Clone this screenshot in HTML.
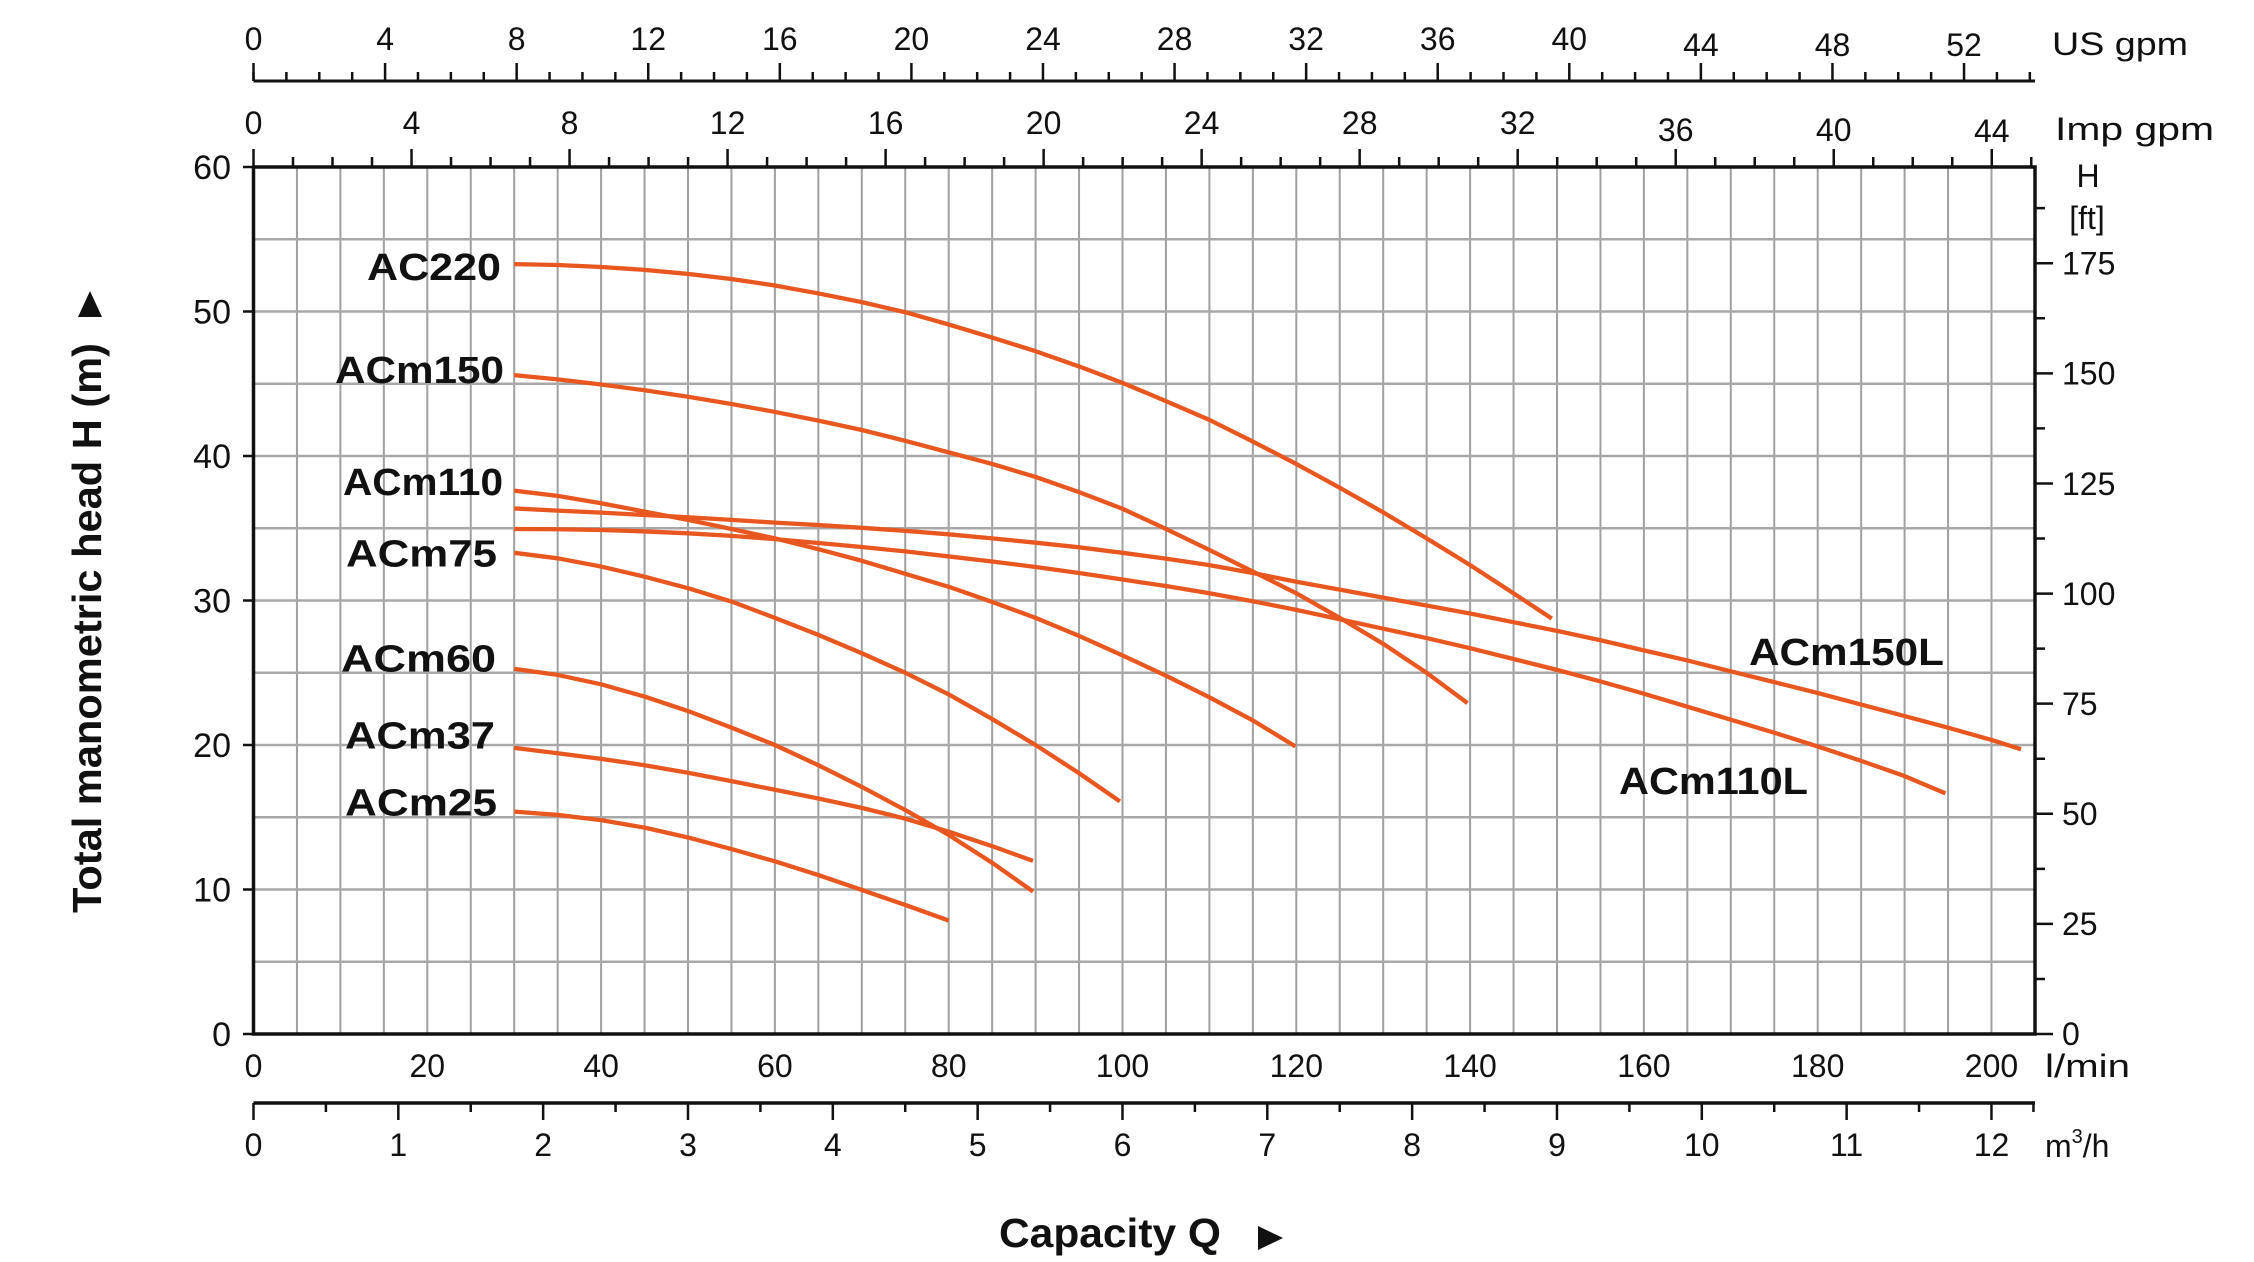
<!DOCTYPE html>
<html><head><meta charset="utf-8"><style>
html,body{margin:0;padding:0;background:#fff;}
svg{display:block;}
.ns *{vector-effect:non-scaling-stroke;}
text{font-family:"Liberation Sans",Arial,sans-serif;fill:#111;}
.t{font-size:32px;}
.tl{font-size:34px;}
.lb{font-size:38px;font-weight:bold;}
</style></head><body>
<svg width="2254" height="1262" viewBox="0 0 2254 1262" xmlns="http://www.w3.org/2000/svg">
<rect width="2254" height="1262" fill="#fff"/>

<!-- grid -->
<g class="ns" transform="translate(253.5 1034) scale(8.69 -14.45)" fill="none" stroke="#a0a0a0" stroke-width="2">
<path d="M5 0V60M10 0V60M15 0V60M20 0V60M25 0V60M30 0V60M35 0V60M40 0V60M45 0V60M50 0V60M55 0V60M60 0V60M65 0V60M70 0V60M75 0V60M80 0V60M85 0V60M90 0V60M95 0V60M100 0V60M105 0V60M110 0V60M115 0V60M120 0V60M125 0V60M130 0V60M135 0V60M140 0V60M145 0V60M150 0V60M155 0V60M160 0V60M165 0V60M170 0V60M175 0V60M180 0V60M185 0V60M190 0V60M195 0V60M200 0V60"/>
<path d="M0 5H205M0 10H205M0 15H205M0 20H205M0 25H205M0 30H205M0 35H205M0 40H205M0 45H205M0 50H205M0 55H205" stroke="#a8a8a8" stroke-width="2.4"/>
</g>

<!-- curves -->
<g class="ns" transform="translate(253.5 1034) scale(8.69 -14.45)" fill="none" stroke="#E8571F" stroke-width="4.3" stroke-linejoin="round">
<polyline points="30,53.28 35,53.22 40,53.08 45,52.88 50,52.6 55,52.25 60,51.8 65,51.25 70,50.65 75,49.95 80,49.1 85,48.2 90,47.25 95,46.2 100,45.06 105,43.8 110,42.5 115,41.0 120,39.45 125,37.8 130,36.1 135,34.3 140,32.45 145,30.5 149.4,28.75"/>
<polyline points="30,45.6 35,45.3 40,44.95 45,44.55 50,44.1 55,43.6 60,43.05 65,42.45 70,41.8 75,41.05 80,40.25 85,39.45 90,38.55 95,37.5 100,36.35 105,34.95 110,33.5 115,32.0 120,30.5 125,28.8 130,27.0 135,25.0 139.7,22.9"/>
<polyline points="30,37.6 35,37.24 40,36.73 45,36.15 50,35.58 55,34.95 60,34.3 65,33.55 70,32.75 75,31.85 80,30.95 85,29.9 90,28.8 95,27.55 100,26.2 105,24.8 110,23.3 115,21.7 119.9,19.9"/>
<polyline points="30,36.37 35,36.22 40,36.08 45,35.92 50,35.76 55,35.58 60,35.39 65,35.22 70,35.03 75,34.82 80,34.58 85,34.3 90,34.0 95,33.68 100,33.3 105,32.9 110,32.45 115,31.9 120,31.3 125,30.75 130,30.2 135,29.65 140,29.1 145,28.5 150,27.9 155,27.25 160,26.55 165,25.85 170,25.1 175,24.35 180,23.6 185,22.8 190,22.0 195,21.2 200,20.35 203.4,19.7"/>
<polyline points="30,34.95 35,34.93 40,34.88 45,34.78 50,34.65 55,34.47 60,34.25 65,33.98 70,33.7 75,33.4 80,33.05 85,32.7 90,32.32 95,31.9 100,31.45 105,31.0 110,30.5 115,29.95 120,29.35 125,28.7 130,28.05 135,27.4 140,26.7 145,25.95 150,25.2 155,24.4 160,23.55 165,22.65 170,21.75 175,20.85 180,19.9 185,18.9 190,17.85 194.7,16.65"/>
<polyline points="30,33.3 35,32.92 40,32.35 45,31.65 50,30.85 55,29.93 60,28.8 65,27.62 70,26.35 75,25.0 80,23.5 85,21.8 90,20.0 95,18.05 99.7,16.1"/>
<polyline points="30,25.27 35,24.85 40,24.2 45,23.35 50,22.35 55,21.2 60,20.0 65,18.6 70,17.1 75,15.5 80,13.78 85,11.85 89.7,9.86"/>
<polyline points="30,19.8 35,19.43 40,19.04 45,18.6 50,18.08 55,17.5 60,16.9 65,16.3 70,15.65 75,14.9 80,14.0 85,13.0 89.7,11.98"/>
<polyline points="30,15.39 35,15.16 40,14.8 45,14.28 50,13.6 55,12.8 60,11.95 65,11.0 70,9.97 75,8.93 80,7.85"/>
</g>

<!-- plot frame -->
<g stroke="#111" fill="none">
<path d="M253.5 167V1034H2035V167H253.5" stroke-width="3.5"/>
<path d="M253.5 81H2035" stroke-width="3"/>
<path d="M253.5 1103H2035" stroke-width="3.5"/>
<path d="M243 167H253.5M243 311.5H253.5M243 456H253.5M243 600.5H253.5M243 745H253.5M243 889.5H253.5M243 1034H253.5" stroke-width="2.5"/>
</g>

<!-- US gpm ticks -->
<g class="ns" transform="translate(253.5 81) scale(32.895 1)" stroke="#111" fill="none" stroke-width="2.5">
<path d="M0 0v-9M1 0v-9M2 0v-9M3 0v-9M5 0v-9M6 0v-9M7 0v-9M9 0v-9M10 0v-9M11 0v-9M13 0v-9M14 0v-9M15 0v-9M17 0v-9M18 0v-9M19 0v-9M21 0v-9M22 0v-9M23 0v-9M25 0v-9M26 0v-9M27 0v-9M29 0v-9M30 0v-9M31 0v-9M33 0v-9M34 0v-9M35 0v-9M37 0v-9M38 0v-9M39 0v-9M41 0v-9M42 0v-9M43 0v-9M45 0v-9M46 0v-9M47 0v-9M49 0v-9M50 0v-9M51 0v-9M53 0v-9M54 0v-9"/>
<path d="M0 0v-18M4 0v-18M8 0v-18M12 0v-18M16 0v-18M20 0v-18M24 0v-18M28 0v-18M32 0v-18M36 0v-18M40 0v-18M44 0v-18M48 0v-18M52 0v-18"/>
</g>

<!-- Imp gpm ticks -->
<g class="ns" transform="translate(253.5 167) scale(39.506 1)" stroke="#111" fill="none" stroke-width="2.5">
<path d="M1 0v-10M2 0v-10M3 0v-10M5 0v-10M6 0v-10M7 0v-10M9 0v-10M10 0v-10M11 0v-10M13 0v-10M14 0v-10M15 0v-10M17 0v-10M18 0v-10M19 0v-10M21 0v-10M22 0v-10M23 0v-10M25 0v-10M26 0v-10M27 0v-10M29 0v-10M30 0v-10M31 0v-10M33 0v-10M34 0v-10M35 0v-10M37 0v-10M38 0v-10M39 0v-10M41 0v-10M42 0v-10M43 0v-10M45 0v-10"/>
<path d="M0 0v-18M4 0v-18M8 0v-18M12 0v-18M16 0v-18M20 0v-18M24 0v-18M28 0v-18M32 0v-18M36 0v-18M40 0v-18M44 0v-18"/>
</g>

<!-- m3/h ticks -->
<g class="ns" transform="translate(253.5 1103) scale(144.83 1)" stroke="#111" fill="none" stroke-width="2.5">
<path d="M0.5 0v9M1.5 0v9M2.5 0v9M3.5 0v9M4.5 0v9M5.5 0v9M6.5 0v9M7.5 0v9M8.5 0v9M9.5 0v9M10.5 0v9M11.5 0v9M12.29 0v9"/>
<path d="M0 0v17M1 0v17M2 0v17M3 0v17M4 0v17M5 0v17M6 0v17M7 0v17M8 0v17M9 0v17M10 0v17M11 0v17M12 0v17"/>
</g>

<!-- right ft ticks -->
<g class="ns" transform="translate(2035 1034) scale(1 -4.40436)" stroke="#111" fill="none" stroke-width="2.5">
<path d="M0 0H18M0 25H18M0 50H18M0 75H18M0 100H18M0 125H18M0 150H18M0 175H18"/>
<path d="M0 12.5H10M0 37.5H10M0 62.5H10M0 87.5H10M0 112.5H10M0 137.5H10M0 162.5H10M0 187.5H10"/>
</g>

<!-- US gpm labels -->
<g class="t" text-anchor="middle">
<text x="253.5" y="50">0</text><text x="385.1" y="50">4</text><text x="516.7" y="50">8</text>
<text x="648.2" y="50">12</text><text x="779.8" y="50">16</text><text x="911.4" y="50">20</text>
<text x="1043" y="50">24</text><text x="1174.6" y="50">28</text><text x="1306.1" y="50">32</text>
<text x="1437.7" y="50">36</text><text x="1569.3" y="50">40</text><text x="1700.9" y="56">44</text>
<text x="1832.5" y="56">48</text><text x="1964" y="56">52</text>
</g>
<!-- Imp gpm labels -->
<g class="t" text-anchor="middle">
<text x="253.5" y="134">0</text><text x="411.5" y="134">4</text><text x="569.5" y="134">8</text>
<text x="727.6" y="134">12</text><text x="885.6" y="134">16</text><text x="1043.6" y="134">20</text>
<text x="1201.6" y="134">24</text><text x="1359.7" y="134">28</text><text x="1517.7" y="134">32</text>
<text x="1675.7" y="141">36</text><text x="1833.7" y="141">40</text><text x="1991.8" y="142">44</text>
</g>
<!-- unit labels top -->
<text class="t" x="2052" y="55" textLength="136" lengthAdjust="spacingAndGlyphs">US gpm</text>
<text class="t" x="2055" y="140" textLength="159" lengthAdjust="spacingAndGlyphs">Imp gpm</text>
<text class="t" x="2088" y="187" text-anchor="middle">H</text>
<text class="t" x="2087" y="229" text-anchor="middle">[ft]</text>

<!-- left H labels -->
<g class="tl" text-anchor="end">
<text x="231" y="179">60</text><text x="231" y="323.5">50</text><text x="231" y="468">40</text>
<text x="231" y="612.5">30</text><text x="231" y="757">20</text><text x="231" y="901.5">10</text>
<text x="231" y="1046">0</text>
</g>
<!-- right ft labels -->
<g class="t">
<text x="2062" y="1045">0</text><text x="2062" y="935">25</text><text x="2062" y="825">50</text>
<text x="2062" y="715">75</text><text x="2062" y="605">100</text><text x="2062" y="495">125</text>
<text x="2062" y="384.5">150</text><text x="2062" y="274.5">175</text>
</g>

<!-- l/min labels -->
<g class="t" text-anchor="middle">
<text x="253.5" y="1077">0</text><text x="427.3" y="1077">20</text><text x="601.1" y="1077">40</text>
<text x="774.9" y="1077">60</text><text x="948.7" y="1077">80</text><text x="1122.5" y="1077">100</text>
<text x="1296.3" y="1077">120</text><text x="1470.1" y="1077">140</text><text x="1643.9" y="1077">160</text>
<text x="1817.7" y="1077">180</text><text x="1991.5" y="1077">200</text>
</g>
<text class="t" x="2045" y="1077" textLength="85" lengthAdjust="spacingAndGlyphs">l/min</text>

<!-- m3/h labels -->
<g class="t" text-anchor="middle">
<text x="253.5" y="1156">0</text><text x="398.3" y="1156">1</text><text x="543.2" y="1156">2</text>
<text x="688" y="1156">3</text><text x="832.8" y="1156">4</text><text x="977.7" y="1156">5</text>
<text x="1122.5" y="1156">6</text><text x="1267.3" y="1156">7</text><text x="1412.1" y="1156">8</text>
<text x="1557" y="1156">9</text><text x="1701.8" y="1156">10</text><text x="1846.6" y="1156">11</text>
<text x="1991.5" y="1156">12</text>
</g>
<text class="t" x="2045" y="1157">m<tspan font-size="20" dy="-14">3</tspan><tspan dy="14">/h</tspan></text>

<!-- curve labels -->
<g class="lb">
<text x="367" y="280" textLength="134" lengthAdjust="spacingAndGlyphs">AC220</text>
<text x="335" y="383" textLength="169" lengthAdjust="spacingAndGlyphs">ACm150</text>
<text x="343" y="495" textLength="160" lengthAdjust="spacingAndGlyphs">ACm110</text>
<text x="346" y="566.5" textLength="151" lengthAdjust="spacingAndGlyphs">ACm75</text>
<text x="341" y="671.5" textLength="155" lengthAdjust="spacingAndGlyphs">ACm60</text>
<text x="345" y="748.5" textLength="150" lengthAdjust="spacingAndGlyphs">ACm37</text>
<text x="345" y="815.5" textLength="152" lengthAdjust="spacingAndGlyphs">ACm25</text>
<text x="1749" y="665" textLength="195" lengthAdjust="spacingAndGlyphs">ACm150L</text>
<text x="1619" y="794" textLength="189" lengthAdjust="spacingAndGlyphs">ACm110L</text>
</g>

<!-- axis titles -->
<text transform="translate(101 628) rotate(-90)" text-anchor="middle" font-size="41" font-weight="bold" textLength="570" lengthAdjust="spacingAndGlyphs">Total manometric head H (m)</text>
<polygon points="78,317 102,317 90,291" fill="#111"/>
<text x="999" y="1247" font-size="41" font-weight="bold" textLength="222" lengthAdjust="spacingAndGlyphs">Capacity Q</text>
<polygon points="1258,1226 1258,1250 1283,1238" fill="#111"/>
</svg>
</body></html>
